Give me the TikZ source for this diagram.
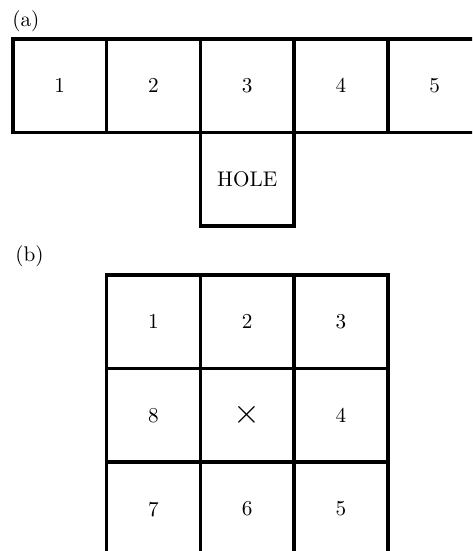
\documentclass[tikz,border=0pt]{standalone}
\begin{document}
\begin{tikzpicture}[x=0.5pt,y=-0.5pt,
  txt/.style={font=\fontsize{10.6}{12.7}\selectfont},
  cell/.style={draw, line width=1.8pt, minimum width=46.875pt, minimum height=46.875pt, inner sep=0pt, txt},
  lbl/.style={anchor=base west, inner sep=0pt, txt}]
\clip (0,0) rectangle (472,551);
% (a)
\node[lbl] (la) at (12,27) {(a)};
\node[cell] (a1) at (59.7,85.6) {1};
\node[cell] (a2) at (153.5,85.6) {2};
\node[cell] (a3) at (247.2,85.6) {3};
\node[cell] (a4) at (341,85.6) {4};
\node[cell] (a5) at (434.7,85.6) {5};
\node[cell] (hole) at (247.2,179.4) {HOLE};
% (b)
\node[lbl] (lb) at (15,261) {(b)};
\node[cell] (b1) at (153.5,321.6) {1};
\node[cell] (b2) at (247.2,321.6) {2};
\node[cell] (b3) at (341,321.6) {3};
\node[cell] (b8) at (153.5,415.3) {8};
\node[cell] (bx) at (247.2,415.3) {\fontsize{19}{22}\selectfont$\times$};
\node[cell] (b4) at (341,415.3) {4};
\node[cell] (b7) at (153.5,509.1) {7};
\node[cell] (b6) at (247.2,509.1) {6};
\node[cell] (b5) at (341,509.1) {5};
\end{tikzpicture}
\end{document}
